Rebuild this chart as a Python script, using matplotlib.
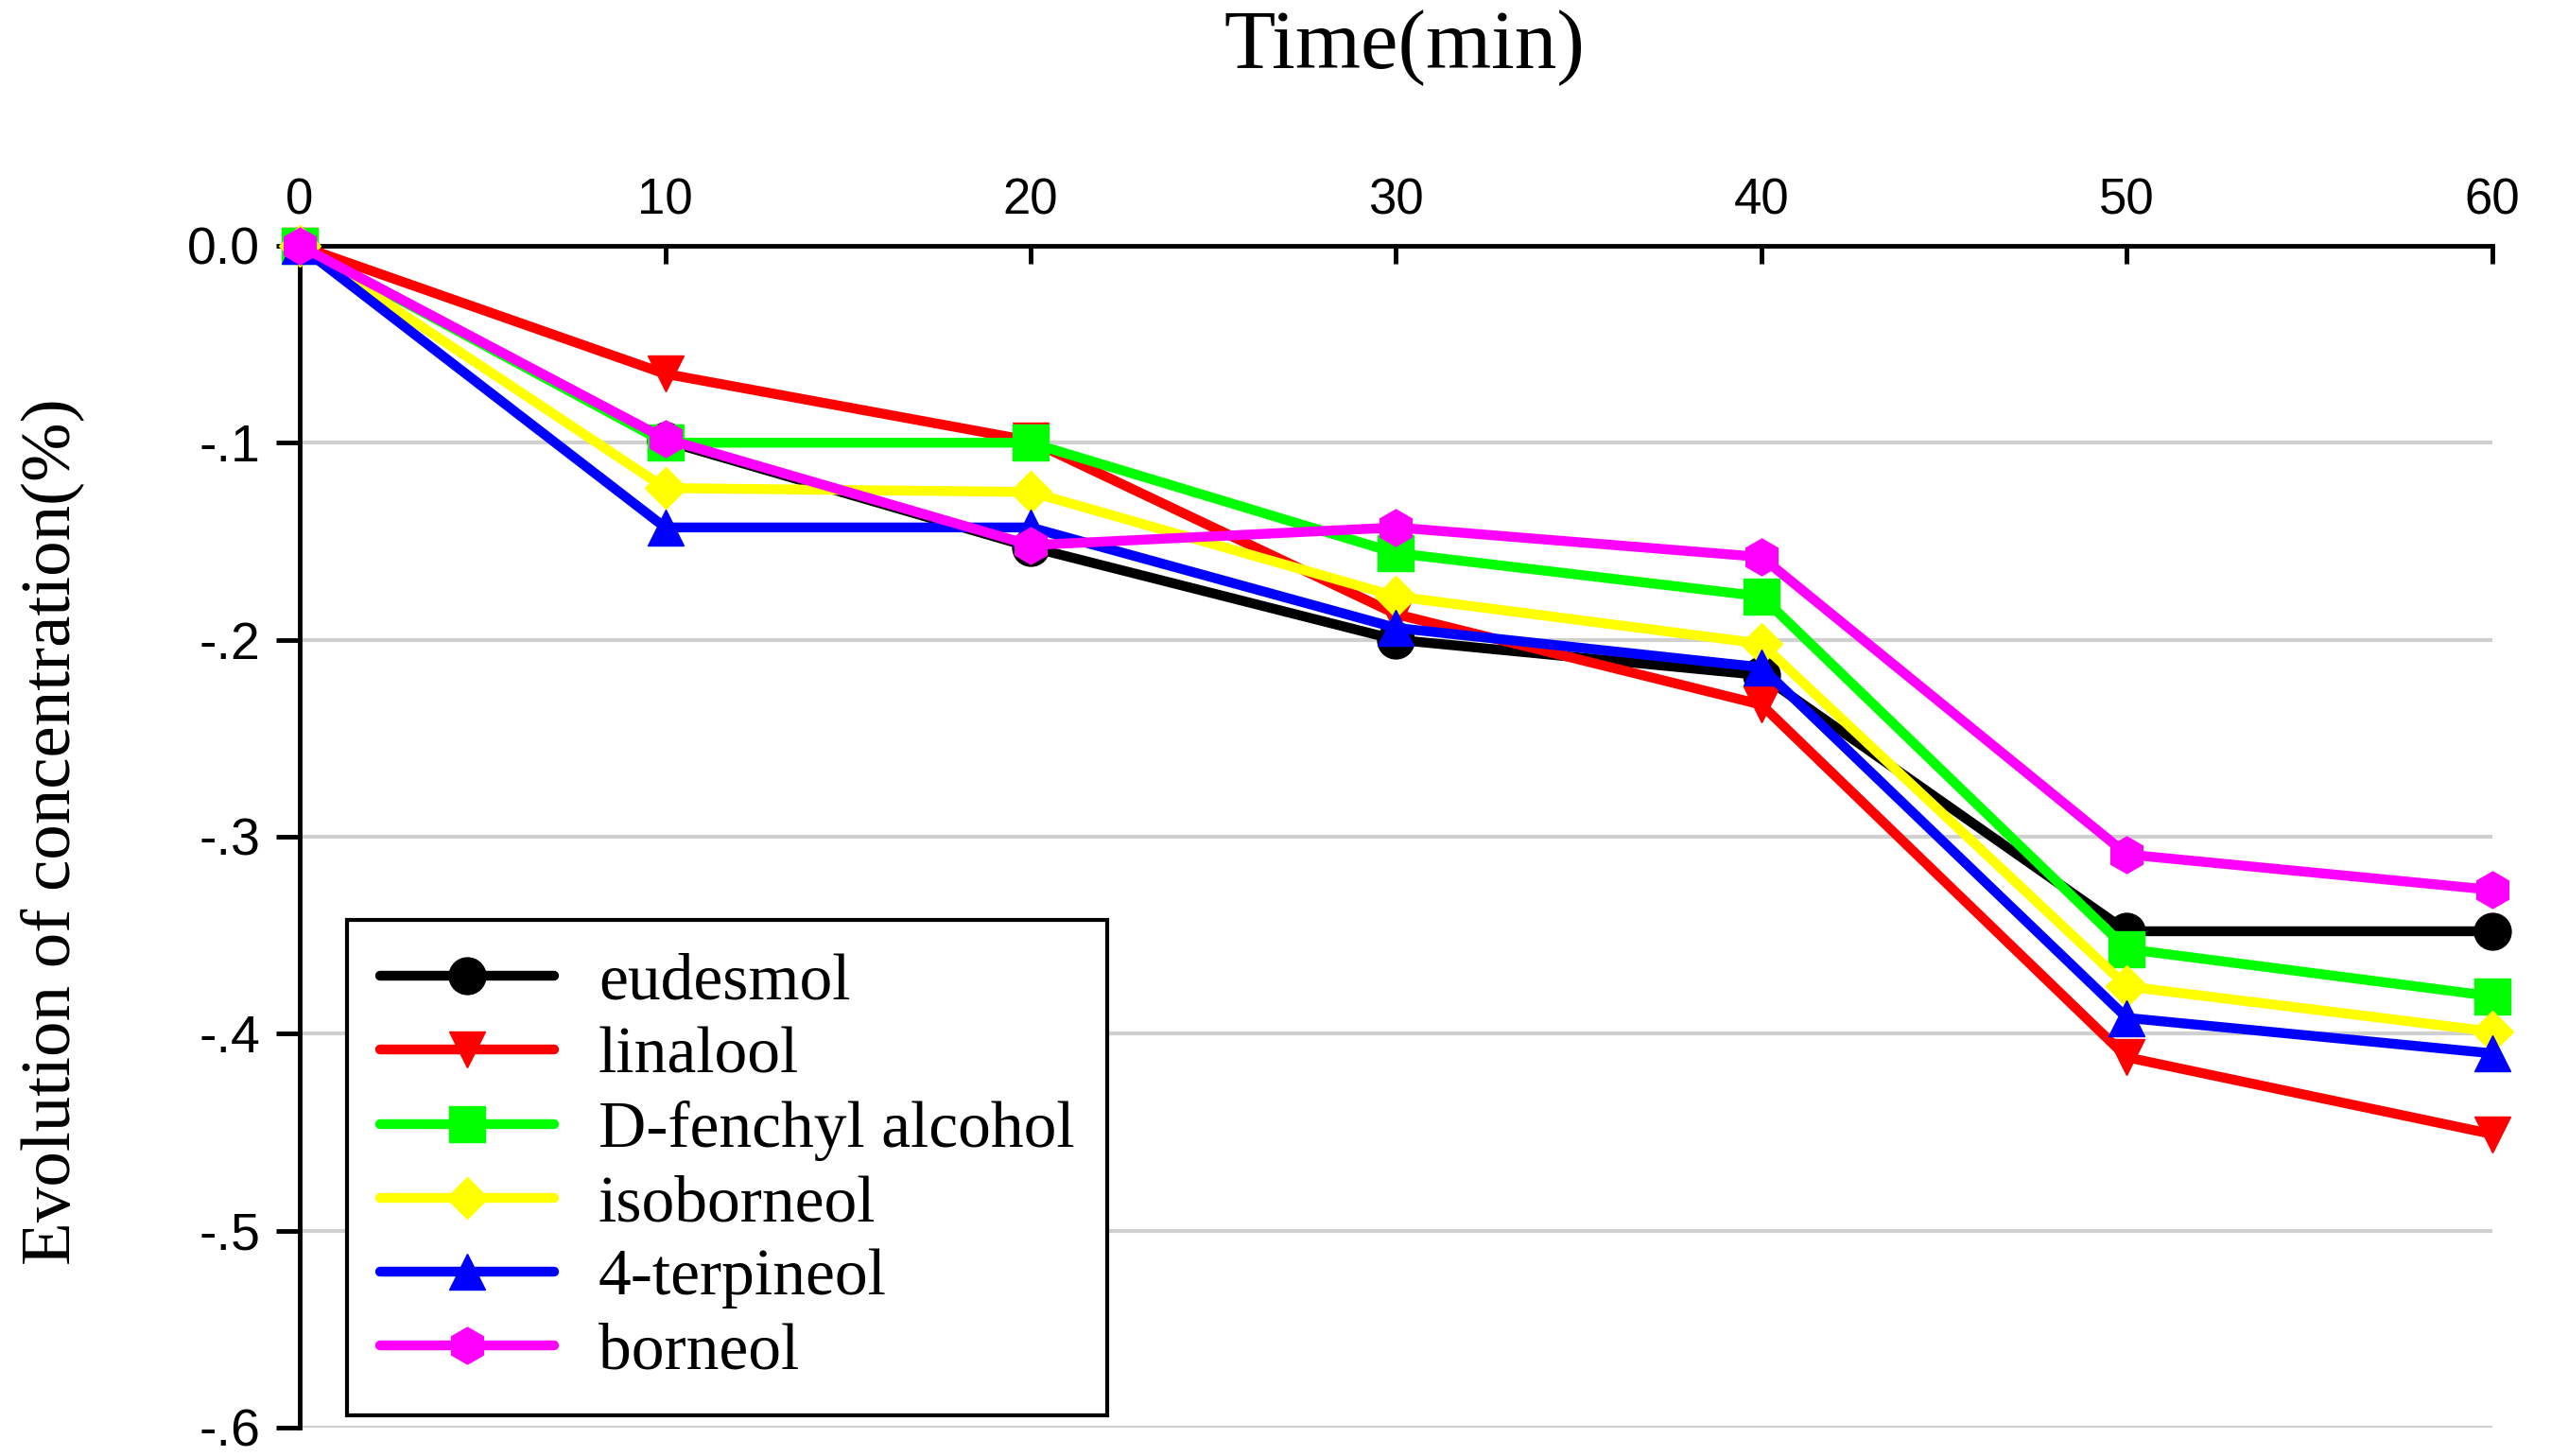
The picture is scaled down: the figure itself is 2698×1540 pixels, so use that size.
import matplotlib
matplotlib.use("Agg")
import matplotlib.pyplot as plt

# data
times = [0, 10, 20, 30, 40, 50, 60]
eudesmol = [0, -0.099, -0.153, -0.200, -0.218, -0.348, -0.348]
linalool = [0, -0.065, -0.099, -0.187, -0.233, -0.412, -0.451]
fenchyl = [0, -0.100, -0.100, -0.156, -0.178, -0.357, -0.381]
isoborneol = [0, -0.123, -0.125, -0.178, -0.202, -0.376, -0.399]
terpineol = [0, -0.143, -0.143, -0.194, -0.214, -0.392, -0.410]
borneol = [0, -0.098, -0.152, -0.143, -0.158, -0.309, -0.327]

names = ["eudesmol", "linalool", "D-fenchyl alcohol", "isoborneol", "4-terpineol", "borneol"]
colors = ["#000000", "#FF0000", "#00FF00", "#FFFF00", "#0000FF", "#FF00FF"]
markers = ["o", "v", "s", "D", "^", "h"]

yticks = [0.0, -0.1, -0.2, -0.3, -0.4, -0.5, -0.6]
ytick_labels = ["0.0", "-.1", "-.2", "-.3", "-.4", "-.5", "-.6"]

fig = plt.figure(figsize=(26.98, 15.4), dpi=100)
ax = fig.add_axes([0.1175, 0.0195, 0.977 - 0.1175, 0.8312 - 0.0195])

series = [eudesmol, linalool, fenchyl, isoborneol, terpineol, borneol]
for vals, name, c, m in zip(series, names, colors, markers):
    ms = 28 if m != "D" else 22
    ax.plot(times, vals, color=c, marker=m, markersize=ms, linewidth=7.5,
            markeredgecolor=c, label=name, clip_on=False, zorder=3,
            solid_joinstyle="round", solid_capstyle="round")

ax.set_xlim(0, 60)
ax.set_ylim(-0.6, 0)
ax.set_xticks(times)
ax.set_yticks(yticks)
ax.set_yticklabels(ytick_labels)

ax.xaxis.tick_top()
ax.tick_params(axis="x", direction="in", length=14, width=3.5, pad=16,
               labelsize=38)
ax.tick_params(axis="y", direction="out", length=18, width=3.5, pad=12,
               labelsize=40)
for lab in ax.get_xticklabels() + ax.get_yticklabels():
    lab.set_fontfamily("Liberation Sans")

for side in ["right", "bottom"]:
    ax.spines[side].set_visible(False)
for side in ["top", "left"]:
    ax.spines[side].set_linewidth(3.5)

ax.yaxis.grid(True, color="#d0d0d0", linewidth=3)
ax.set_axisbelow(True)

fig.text(1485 / 2698, 1 - 10 / 1540, "Time(min)", ha="center", va="top",
         fontsize=64, family="Liberation Serif")
fig.text(55 / 2698, 1 - 880 / 1540, "Evolution of concentration(%)",
         rotation=90, ha="center", va="center", fontsize=54,
         family="Liberation Serif")

leg = ax.legend(loc="upper left", bbox_to_anchor=(367 / 2698, 1 - 973 / 1540),
                bbox_transform=fig.transFigure, borderaxespad=0,
                prop={"family": "Liberation Serif", "size": 50},
                handlelength=2.65, handletextpad=0.68, borderpad=0.5,
                labelspacing=0.21, fancybox=False, framealpha=1,
                edgecolor="black")
leg.get_frame().set_linewidth(3)

fig.savefig("out.png", dpi=100)
